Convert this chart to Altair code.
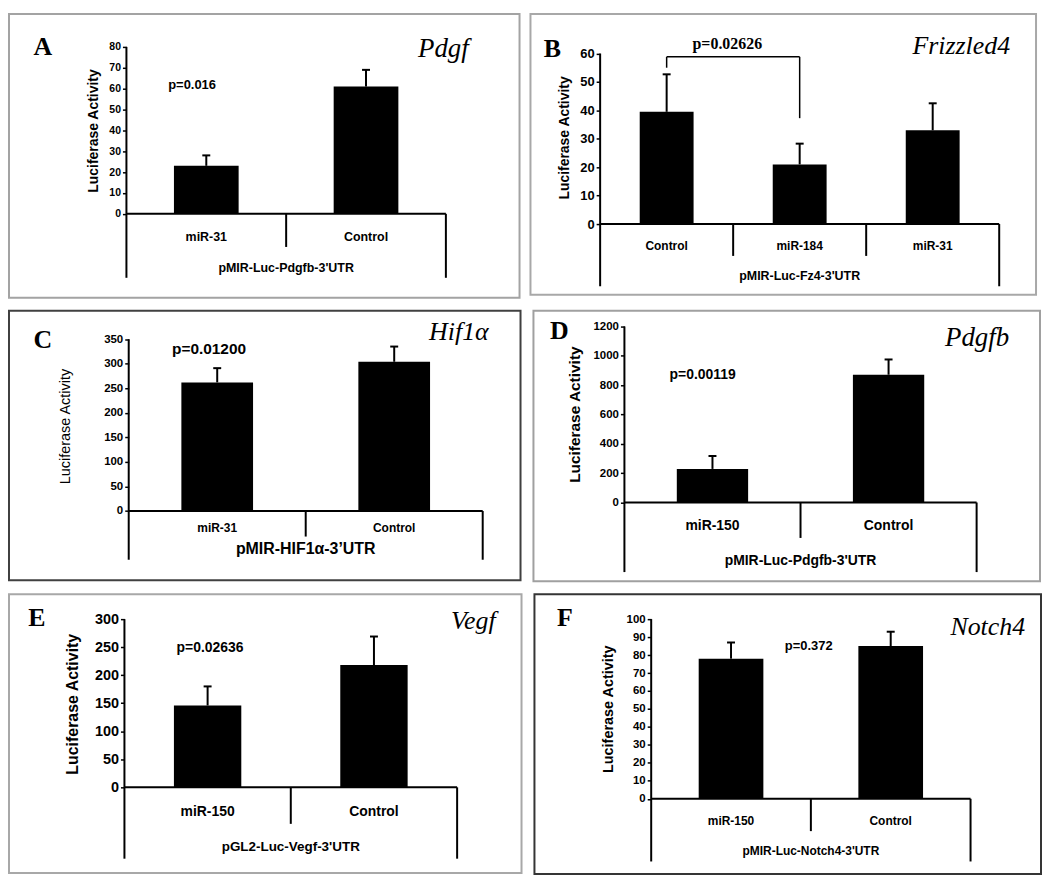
import altair as alt
import pandas as pd

# ---------------- data ----------------
A_groups = ["miR-31", "Control"]
A_values = [23, 61]
A_errors = [5, 8]
A_ticks = [0, 10, 20, 30, 40, 50, 60, 70, 80]
A_construct = "pMIR-Luc-Pdgfb-3'UTR"
A_gene = "Pdgf"
A_pvalue = "p=0.016"

B_groups = ["Control", "miR-184", "miR-31"]
B_values = [39.5, 21, 33]
B_errors = [13.2, 7.3, 9.5]
B_ticks = [0, 10, 20, 30, 40, 50, 60]
B_construct = "pMIR-Luc-Fz4-3'UTR"
B_gene = "Frizzled4"
B_pvalue = "p=0.02626"
B_compare = [0, 1]

C_groups = ["miR-31", "Control"]
C_values = [262, 304]
C_errors = [29, 31]
C_ticks = [0, 50, 100, 150, 200, 250, 300, 350]
C_construct = "pMIR-HIF1\u03b1-3\u2019UTR"
C_gene = "Hif1\u03b1"
C_pvalue = "p=0.01200"

D_groups = ["miR-150", "Control"]
D_values = [229, 871]
D_errors = [88, 104]
D_ticks = [0, 200, 400, 600, 800, 1000, 1200]
D_construct = "pMIR-Luc-Pdgfb-3'UTR"
D_gene = "Pdgfb"
D_pvalue = "p=0.00119"

E_groups = ["miR-150", "Control"]
E_values = [146, 218]
E_errors = [34, 51]
E_ticks = [0, 50, 100, 150, 200, 250, 300]
E_construct = "pGL2-Luc-Vegf-3'UTR"
E_gene = "Vegf"
E_pvalue = "p=0.02636"

F_groups = ["miR-150", "Control"]
F_values = [78, 85]
F_errors = [9, 8]
F_ticks = [0, 10, 20, 30, 40, 50, 60, 70, 80, 90, 100]
F_construct = "pMIR-Luc-Notch4-3'UTR"
F_gene = "Notch4"
F_pvalue = "p=0.372"

SANS = "Liberation Sans"
SERIF = "Liberation Serif"
YTITLE = "Luciferase Activity"

# ---------------- layout (pixels, relative to each panel frame) ----------------
PANELS = {
    "A": dict(groups=A_groups, values=A_values, errors=A_errors, ticks=A_ticks,
              construct=A_construct, gene=A_gene, pvalue=A_pvalue, compare=None,
              W=513, H=285, ax_l=118, ax_r=439, y_top=33, y_zero=200.7,
              sep_b=234, out_b=265, cat_y=224, grp_y=255, p_px=(184, 71),
              letter_px=(34, 33), gene_px=(462, 35), ytitle_px=(85, 117),
              frame="#a3a3a3", tick_fs=10.5, title_fs=14, title_w="bold",
              cat_fs=12.5, grp_fs=12.5, p_fs=13, p_font=SANS, gene_fs=27),
    "B": dict(groups=B_groups, values=B_values, errors=B_errors, ticks=B_ticks,
              construct=B_construct, gene=B_gene, pvalue=B_pvalue, compare=B_compare,
              W=508, H=282, ax_l=70, ax_r=471, y_top=39.7, y_zero=211,
              sep_b=243, out_b=273.5, cat_y=233, grp_y=263, p_px=(197.8, 30.2),
              letter_px=(22, 35.5), gene_px=(482, 32), ytitle_px=(34, 124),
              bracket_px=(43, 53.9, 104.6),
              frame="#a8a8a8", tick_fs=13, title_fs=14, title_w="bold",
              cat_fs=12, grp_fs=12.5, p_fs=16, p_font=SERIF, gene_fs=26),
    "C": dict(groups=C_groups, values=C_values, errors=C_errors, ticks=C_ticks,
              construct=C_construct, gene=C_gene, pvalue=C_pvalue, compare=None,
              W=514, H=271, ax_l=120.3, ax_r=476, y_top=28.7, y_zero=201.3,
              sep_b=227, out_b=250.3, cat_y=218, grp_y=240, p_px=(201, 38.7),
              letter_px=(34, 29.5), gene_px=(482, 22), ytitle_px=(57, 116),
              frame="#404040", tick_fs=11.5, title_fs=14.5, title_w="normal",
              cat_fs=12, grp_fs=16, p_fs=15.5, p_font=SANS, gene_fs=26),
    "D": dict(groups=D_groups, values=D_values, errors=D_errors, ticks=D_ticks,
              construct=D_construct, gene=D_gene, pvalue=D_pvalue, compare=None,
              W=509, H=272, ax_l=91.4, ax_r=445.3, y_top=15.9, y_zero=192.8,
              sep_b=228.4, out_b=262.7, cat_y=216.6, grp_y=251.5, p_px=(170, 65),
              letter_px=(26, 20), gene_px=(478, 27.8), ytitle_px=(41, 104),
              frame="#a0a0a0", tick_fs=11.5, title_fs=15.5, title_w="bold",
              cat_fs=14, grp_fs=14, p_fs=14, p_font=SANS, gene_fs=27),
    "E": dict(groups=E_groups, values=E_values, errors=E_errors, ticks=E_ticks,
              construct=E_construct, gene=E_gene, pvalue=E_pvalue, compare=None,
              W=515, H=280, ax_l=116, ax_r=450.3, y_top=25, y_zero=194,
              sep_b=230.7, out_b=265.7, cat_y=219, grp_y=254, p_px=(202, 54),
              letter_px=(28, 24), gene_px=(489, 27), ytitle_px=(63.7, 110),
              frame="#a8a8a8", tick_fs=14.5, title_fs=16, title_w="bold",
              cat_fs=14, grp_fs=13.5, p_fs=14, p_font=SANS, gene_fs=26),
    "F": dict(groups=F_groups, values=F_values, errors=F_errors, ticks=F_ticks,
              construct=F_construct, gene=F_gene, pvalue=F_pvalue, compare=None,
              W=509, H=281, ax_l=117.3, ax_r=438.2, y_top=25, y_zero=205.5,
              sep_b=238, out_b=268.5, cat_y=228, grp_y=258, p_px=(275.6, 52),
              letter_px=(30.5, 23.5), gene_px=(493, 32.8), ytitle_px=(74, 115),
              frame="#353535", tick_fs=11.5, title_fs=14.5, title_w="bold",
              cat_fs=12, grp_fs=12, p_fs=13, p_font=SANS, gene_fs=26),
}

BAR_HALF = 0.2025   # half bar width, in band units
CAP_HALF_PX = 4.0
LINE_W = 2


def make_panel(key, P):
    n = len(P["groups"])
    kx = (P["ax_r"] - P["ax_l"]) / n
    ymax = P["ticks"][-1]
    ky = (P["y_zero"] - P["y_top"]) / ymax

    def xd(px):
        return -0.5 + (px - P["ax_l"]) / kx

    def yd(py):
        return (P["y_zero"] - py) / ky

    xs = alt.Scale(domain=[xd(0), xd(P["W"])], nice=False, zero=False)
    ys = alt.Scale(domain=[yd(P["H"]), yd(0)], nice=False, zero=False)

    yaxis = alt.Axis(
        values=P["ticks"], format="d", offset=-P["ax_l"], domain=False, grid=False,
        tickSize=4, tickWidth=1.5, tickColor="black",
        labelFont=SANS, labelFontWeight="bold", labelFontSize=P["tick_fs"],
        labelColor="black", labelPadding=2, labelFlush=False, labelOverlap=False,
        title=YTITLE, titleFont=SANS, titleFontSize=P["title_fs"],
        titleFontWeight=P["title_w"], titleColor="black",
        titleX=P["ytitle_px"][0] - P["ax_l"], titleY=P["ytitle_px"][1],
        titleAngle=270, titleAlign="center", titleBaseline="middle",
    )

    def X(field):
        return alt.X(field, type="quantitative", scale=xs, axis=None)

    def Y(field):
        return alt.Y(field, type="quantitative", scale=ys, axis=yaxis)

    df = pd.DataFrame({"i": list(range(n)), "group": P["groups"],
                       "value": P["values"], "err": P["errors"]})
    cap = CAP_HALF_PX / kx
    base = alt.Chart(df).transform_calculate(
        top="datum.value + datum.err",
        xa=f"datum.i - {BAR_HALF}", xb=f"datum.i + {BAR_HALF}",
        ca=f"datum.i - {cap}", cb=f"datum.i + {cap}",
        zero="0", cy=str(yd(P["cat_y"])),
    )

    bars = base.mark_bar(color="black").encode(
        x=X("xa"), x2=alt.X2("xb"), y=Y("value"), y2=alt.Y2("zero"),
    )
    stems = base.mark_rule(color="black", strokeWidth=LINE_W).encode(
        x=X("i"), y=Y("value"), y2=alt.Y2("top"),
    )
    caps = base.mark_rule(color="black", strokeWidth=LINE_W).encode(
        x=X("ca"), x2=alt.X2("cb"), y=Y("top"),
    )
    cats = base.mark_text(font=SANS, fontWeight="bold", fontSize=P["cat_fs"],
                          color="black", baseline="middle").encode(
        x=X("i"), y=Y("cy"), text="group:N",
    )

    vlines = pd.DataFrame(
        [{"x": -0.5, "y1": yd(P["out_b"]), "y2": ymax},
         {"x": n - 0.5, "y1": yd(P["out_b"]), "y2": 0}]
        + [{"x": i + 0.5, "y1": yd(P["sep_b"]), "y2": 0} for i in range(n - 1)]
    )
    vrule = alt.Chart(vlines).mark_rule(color="black", strokeWidth=LINE_W).encode(
        x=X("x"), y=Y("y1"), y2=alt.Y2("y2"),
    )
    hlines = pd.DataFrame([{"x1": -0.5, "x2": n - 0.5, "y": 0}])
    hrule = alt.Chart(hlines).mark_rule(color="black", strokeWidth=LINE_W).encode(
        x=X("x1"), x2=alt.X2("x2"), y=Y("y"),
    )

    grp = alt.Chart(pd.DataFrame({"text": [P["construct"]],
                                  "x": [(n - 1) / 2], "y": [yd(P["grp_y"])]})).mark_text(
        font=SANS, fontWeight="bold", fontSize=P["grp_fs"], color="black", baseline="middle"
    ).encode(x=X("x"), y=Y("y"), text="text:N")

    ptxt = alt.Chart(pd.DataFrame({"text": [P["pvalue"]],
                                   "x": [xd(P["p_px"][0])], "y": [yd(P["p_px"][1])]})).mark_text(
        font=P["p_font"], fontWeight="bold", fontSize=P["p_fs"], color="black", baseline="middle"
    ).encode(x=X("x"), y=Y("y"), text="text:N")

    letter = alt.Chart(pd.DataFrame({"text": [key]})).mark_text(
        font=SERIF, fontWeight="bold", fontSize=26, color="black",
        align="center", baseline="middle"
    ).encode(x=alt.value(P["letter_px"][0]), y=alt.value(P["letter_px"][1]), text="text:N")

    gene = alt.Chart(pd.DataFrame({"text": [P["gene"]]})).mark_text(
        font=SERIF, fontStyle="italic", fontSize=P["gene_fs"], color="black",
        align="right", baseline="middle"
    ).encode(x=alt.value(P["gene_px"][0]), y=alt.value(P["gene_px"][1]), text="text:N")

    layers = [bars, stems, caps, vrule, hrule, cats, grp, ptxt, letter, gene]

    if P["compare"] is not None:
        a, b = P["compare"]
        top_px, lb_px, rb_px = P["bracket_px"]
        bt = yd(top_px)
        bv = pd.DataFrame([{"x": a, "y1": yd(lb_px), "y2": bt},
                           {"x": b, "y1": yd(rb_px), "y2": bt}])
        bh = pd.DataFrame([{"x1": a, "x2": b, "y": bt}])
        layers.append(alt.Chart(bv).mark_rule(color="black", strokeWidth=1.5).encode(
            x=X("x"), y=Y("y1"), y2=alt.Y2("y2")))
        layers.append(alt.Chart(bh).mark_rule(color="black", strokeWidth=1.5).encode(
            x=X("x1"), x2=alt.X2("x2"), y=Y("y")))

    return alt.layer(*layers).properties(
        width=P["W"], height=P["H"],
        view=alt.ViewBackground(stroke=P["frame"], strokeWidth=2, fill="white"),
    )


panels = {k: make_panel(k, P) for k, P in PANELS.items()}

row1 = alt.hconcat(panels["A"], panels["B"], spacing=9)
row2 = alt.hconcat(panels["C"], panels["D"], spacing=11)
row3 = alt.hconcat(panels["E"], panels["F"], spacing=11)

chart = alt.vconcat(row1, row2, row3, spacing=11).properties(
    padding={"left": 0, "top": 3, "right": 0, "bottom": 0},
    background="white",
)

chart.save("out.html", embed_options={"renderer": "svg", "actions": False})
